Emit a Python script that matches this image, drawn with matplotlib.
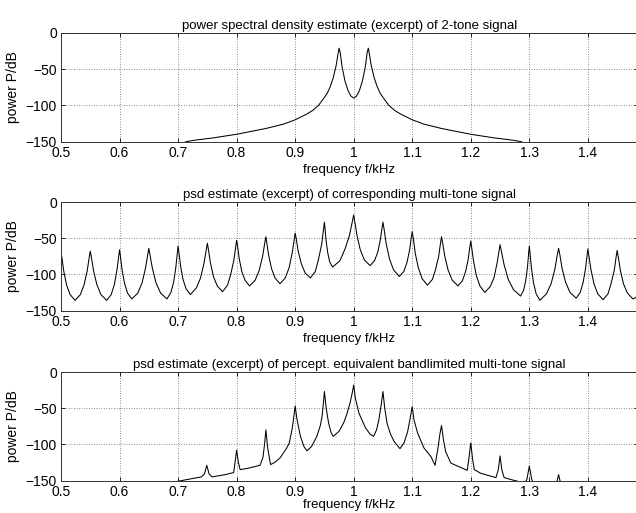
import matplotlib.pyplot as plt

# 2-tone psd (kHz, dB)
f_two = [0.70, 0.715, 0.73, 0.76, 0.80, 0.85, 0.88, 0.90, 0.92, 0.93, 0.94, 0.95, 0.955,
         0.96, 0.965, 0.97, 0.973, 0.975, 0.977, 0.98, 0.985, 0.99, 0.995, 1.00,
         1.005, 1.01, 1.015, 1.02, 1.023, 1.025, 1.027, 1.03, 1.035, 1.04, 1.045,
         1.05, 1.06, 1.07, 1.08, 1.10, 1.12, 1.15, 1.20, 1.24, 1.27, 1.285, 1.30]
p_two = [-155, -150, -148, -145, -140, -132, -126, -120, -112, -107, -100, -89, -83,
         -74, -62, -45, -30, -21, -27, -46, -66, -79, -87, -90,
         -87, -79, -66, -46, -27, -21, -30, -45, -62, -74, -83,
         -89, -100, -107, -112, -120, -126, -132, -140, -145, -148, -150, -155]

# multi-tone psd
f_multi = [0.500, 0.5019, 0.5048, 0.5096, 0.5156, 0.524, 0.5331, 0.5396, 0.5448, 0.5479,
           0.550, 0.5522, 0.5556, 0.5612, 0.5682, 0.578, 0.5857, 0.5912, 0.5956, 0.5982,
           0.600, 0.6017, 0.6042, 0.6084, 0.6137, 0.621, 0.6311, 0.6384, 0.6442, 0.6477,
           0.650, 0.6525, 0.6562, 0.6624, 0.6702, 0.681, 0.6877, 0.6924, 0.6962, 0.6985,
           0.700, 0.7017, 0.7042, 0.7084, 0.7137, 0.721, 0.7311, 0.7384, 0.7442, 0.7477,
           0.750, 0.7521, 0.7552, 0.7604, 0.7669, 0.776, 0.7844, 0.7896, 0.7952, 0.7981,
           0.800, 0.8018, 0.8044, 0.8088, 0.8143, 0.822, 0.8318, 0.8388, 0.8444, 0.8478,
           0.850, 0.8519, 0.8548, 0.8596, 0.8656, 0.874, 0.8831, 0.8896, 0.8948, 0.8979,
           0.900, 0.9021, 0.9052, 0.9104, 0.9169, 0.926, 0.9344, 0.9396, 0.9452, 0.9481,
           0.950, 0.9511, 0.9528, 0.9556, 0.9591, 0.964, 0.9766, 0.9856, 0.9928, 0.9971,
           1.000, 1.0022, 1.0056, 1.0112, 1.0182, 1.028, 1.0357, 1.0412, 1.0456, 1.0482,
           1.050, 1.0522, 1.0556, 1.0612, 1.0682, 1.078, 1.0857, 1.0912, 1.0956, 1.0982,
           1.100, 1.1021, 1.1052, 1.1104, 1.1169, 1.126, 1.1344, 1.1396, 1.1452, 1.1481,
           1.150, 1.1522, 1.1556, 1.1612, 1.1682, 1.178, 1.1857, 1.1912, 1.1956, 1.1982,
           1.200, 1.2019, 1.2048, 1.2096, 1.2156, 1.224, 1.2331, 1.2396, 1.2448, 1.2479,
           1.250, 1.2528, 1.257, 1.264, 1.2728, 1.285, 1.2903, 1.294, 1.297, 1.2988,
           1.300, 1.3014, 1.3036, 1.3072, 1.3117, 1.318, 1.3292, 1.3372, 1.3436, 1.3474,
           1.350, 1.3524, 1.356, 1.362, 1.3695, 1.380, 1.387, 1.392, 1.396, 1.3984,
           1.400, 1.4021, 1.4052, 1.4104, 1.4169, 1.426, 1.4344, 1.4396, 1.4452, 1.4481,
           1.450, 1.4522, 1.4554, 1.4608, 1.4676, 1.477, 1.482, 1.487]
p_multi = [-69, -79, -96, -115, -128, -136, -128, -114, -95, -78,
           -68, -78, -95, -114, -128, -136, -128, -114, -94, -77,
           -66, -76, -93, -112, -126, -134, -126, -112, -92, -75,
           -64, -75, -92, -112, -126, -134, -125, -111, -90, -72,
           -61, -71, -88, -107, -120, -128, -119, -105, -85, -68,
           -57, -67, -84, -103, -116, -124, -115, -101, -81, -64,
           -53, -62, -78, -96, -108, -116, -108, -94, -75, -58,
           -48, -58, -74, -92, -105, -113, -105, -91, -71, -54,
           -43, -52, -68, -85, -98, -105, -96, -80, -59, -40,
           -28, -37, -53, -70, -83, -90, -81, -64, -46, -29,
           -18, -29, -46, -66, -80, -88, -81, -69, -52, -37,
           -28, -39, -58, -79, -94, -103, -96, -83, -66, -50,
           -41, -52, -71, -91, -106, -115, -107, -94, -75, -58,
           -48, -58, -75, -94, -108, -116, -109, -96, -79, -63,
           -54, -65, -82, -102, -116, -125, -117, -105, -85, -69,
           -59, -70, -87, -107, -121, -130, -122, -108, -89, -71,
           -61, -72, -91, -112, -127, -136, -127, -113, -93, -75,
           -64, -74, -92, -111, -125, -133, -125, -111, -92, -75,
           -65, -76, -93, -113, -127, -135, -127, -113, -94, -77,
           -67, -77, -94, -113, -126, -134, -132, -127]

# bandlimited multi-tone psd
f_band = [0.65, 0.69, 0.70, 0.72, 0.74, 0.745, 0.749, 0.753, 0.758, 0.78, 0.795, 0.797,
          0.80, 0.803, 0.806, 0.82, 0.84, 0.845, 0.848, 0.85, 0.853, 0.858, 0.865, 0.874,
          0.885, 0.89, 0.895, 0.898, 0.90, 0.903, 0.909, 0.915, 0.92, 0.928, 0.937, 0.943,
          0.946, 0.948, 0.95, 0.953, 0.957, 0.961, 0.965, 0.975, 0.983, 0.988, 0.994, 0.998,
          1.00, 1.003, 1.009, 1.02, 1.028, 1.034, 1.039, 1.043, 1.047, 1.05, 1.053, 1.057,
          1.063, 1.069, 1.079, 1.086, 1.092, 1.096, 1.10, 1.103, 1.109, 1.12, 1.132, 1.139,
          1.144, 1.147, 1.15, 1.153, 1.157, 1.166, 1.183, 1.194, 1.197, 1.20, 1.203, 1.206,
          1.217, 1.243, 1.247, 1.25, 1.253, 1.257, 1.27, 1.28, 1.29, 1.296, 1.30, 1.304,
          1.31, 1.34, 1.347, 1.35, 1.353, 1.36, 1.40]
p_band = [-170, -158, -151, -148, -145, -141, -129, -141, -145, -142, -139, -127,
          -108, -125, -135, -133, -129, -118, -98, -80, -105, -128, -125, -119,
          -106, -98, -78, -60, -47, -65, -89, -103, -109, -103, -89, -74,
          -61, -45, -27, -50, -70, -83, -89, -82, -70, -59, -42, -27,
          -18, -37, -57, -77, -86, -89, -80, -66, -45, -27, -50, -71,
          -86, -96, -106, -98, -83, -66, -48, -66, -84, -105, -117, -129,
          -105, -87, -74, -92, -110, -126, -132, -136, -118, -98, -120, -135,
          -140, -146, -135, -116, -135, -146, -149, -151, -158, -148, -130, -148,
          -160, -162, -152, -142, -152, -165, -175]

titles = ["power spectral density estimate (excerpt) of 2-tone signal",
          "psd estimate (excerpt) of corresponding multi-tone signal",
          "psd estimate (excerpt) of percept. equivalent bandlimited multi-tone signal"]
xticks = [0.5, 0.6, 0.7, 0.8, 0.9, 1.0, 1.1, 1.2, 1.3, 1.4]
xticklabels = ["0.5", "0.6", "0.7", "0.8", "0.9", "1", "1.1", "1.2", "1.3", "1.4"]
yticks = [0, -50, -100, -150]

plt.rcParams["font.family"] = ["Liberation Sans", "DejaVu Sans"]

fig = plt.figure(figsize=(6.36, 5.13), dpi=100)
left = 61 / 636
height = 108.5 / 513
bottoms = [1 - 141.5 / 513, 1 - 310.5 / 513, 1 - 480.5 / 513]
curves = [(f_two, p_two), (f_multi, p_multi), (f_band, p_band)]

for i, (b, (f, p), title) in enumerate(zip(bottoms, curves, titles)):
    ax = fig.add_axes([left, b, 1.003 - left, height])
    ax.plot(f, p, color="black", lw=0.75)
    ax.set_xlim(0.5, 1.4855)
    ax.set_ylim(-150, 0)
    ax.set_xticks(xticks)
    ax.set_xticklabels(xticklabels)
    ax.set_yticks(yticks)
    ax.grid(True, color="0.4", linestyle=(0, (1, 2)), lw=0.6)
    ax.tick_params(direction="in", length=3, width=0.6, top=True, right=True,
                   labelsize=10, colors="black")
    ax.tick_params(axis="x", pad=3)
    ax.tick_params(axis="y", pad=3)
    for s in ax.spines.values():
        s.set_linewidth(0.7)
        s.set_color("0.2")
    ax.set_title(title, fontsize=9.5, pad=3)
    # last x label sits right at the bottom edge of the figure
    ax.set_xlabel("frequency f/kHz", fontsize=9.5, labelpad=3 if i < 2 else 0.5)
    ax.set_ylabel("power P/dB", fontsize=10, labelpad=4)

fig.savefig("out.png", dpi=100)
